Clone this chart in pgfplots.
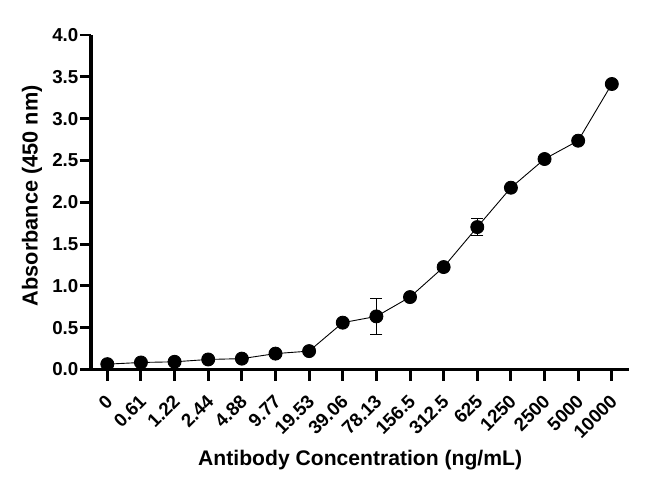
\documentclass[border=0pt]{standalone}
\usepackage{pgfplots}
\pgfplotsset{compat=1.18}
\usepackage{fontspec}
\setmainfont{Liberation Sans}
\begin{document}
\begin{tikzpicture}
\path[use as bounding box] (-91bp,-119.5bp) rectangle (559bp,369.5bp);
\begin{axis}[
  at={(0,0)}, anchor=south west,
  scale only axis, width=538.3bp, height=334.5bp,
  xmin=-0.485, xmax=15.52, ymin=0, ymax=4,
  axis lines=left, axis line style={line width=3.2pt, -},
  xtick={0,...,15},
  xticklabels={0,0.61,1.22,2.44,4.88,9.77,19.53,39.06,78.13,156.5,312.5,625,1250,2500,5000,10000},
  ytick={0,0.5,...,4.0},
  yticklabel style={/pgf/number format/fixed, /pgf/number format/fixed zerofill, /pgf/number format/precision=1},
  /pgf/number format/assume math mode=true,
  major tick style={line width=3pt, black},
  major tick length=11bp,
  tick align=outside,
  every tick label/.append style={font=\bfseries\fontsize{18.8}{21}\selectfont},
  xticklabel style={rotate=45, anchor=north east, inner sep=1pt, xshift=-10bp, yshift=-6bp},
  yticklabel style={inner sep=1.5pt},
  xlabel={Antibody Concentration (ng/mL)},
  ylabel={Absorbance (450 nm)},
  xlabel style={font=\bfseries\fontsize{21.2}{25}\selectfont, at={(axis description cs:0.5,0)}, anchor=center, yshift=-90.5bp},
  ylabel style={font=\bfseries\fontsize{21.8}{25}\selectfont, at={(axis description cs:0,0.5)}, anchor=center, yshift=59bp, xshift=6.5bp},
  clip=false,
]
\addplot[black, line width=0.9pt, mark=*, mark size=6.5bp,
  mark options={fill=black, solid},
  error bars/.cd, y dir=both, y explicit,
  error bar style={line width=0.9pt},
  error mark options={rotate=90, mark size=6bp, line width=0.9pt}]
coordinates {
(0,0.064) +- (0,0)
(1,0.084) +- (0,0)
(2,0.092) +- (0,0)
(3,0.12) +- (0,0)
(4,0.13) +- (0,0)
(5,0.19) +- (0,0)
(6,0.22) +- (0,0)
(7,0.56) +- (0,0)
(8,0.635) +- (0,0.212)
(9,0.866) +- (0,0)
(10,1.225) +- (0,0)
(11,1.703) +- (0,0.10)
(12,2.174) +- (0,0)
(13,2.517) +- (0,0)
(14,2.736) +- (0,0)
(15,3.414) +- (0,0)
};
\end{axis}
\end{tikzpicture}
\end{document}
